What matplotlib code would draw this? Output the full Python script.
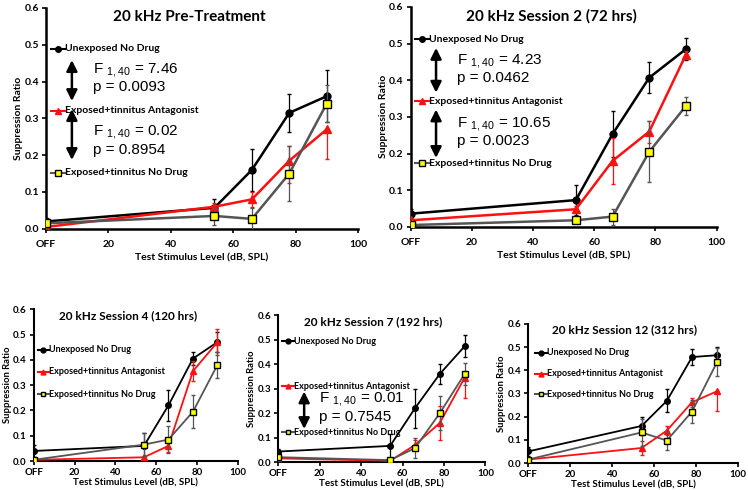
import numpy as np
import matplotlib
matplotlib.use("Agg")
import matplotlib.pyplot as plt

plt.rcParams['font.family'] = ['Lato', 'DejaVu Sans']
plt.rcParams['mathtext.fontset'] = 'custom'
plt.rcParams['mathtext.rm'] = 'Liberation Sans'

# x positions (dB SPL, OFF = 0)
levels = [0, 54, 66, 78, 90]
xticks = [0, 20, 40, 60, 80, 100]
xticklabels = ['OFF', '20', '40', '60', '80', '100']
yticks = [0.0, 0.1, 0.2, 0.3, 0.4, 0.5, 0.6]

titles = ['20 kHz Pre-Treatment', '20 kHz Session 2 (72 hrs)',
          '20 kHz Session 4 (120 hrs)', '20 kHz Session 7 (192 hrs)',
          '20 kHz Session 12 (312 hrs)']

# Unexposed No Drug
unexp = [[0.020, 0.057, 0.160, 0.315, 0.360],
         [0.036, 0.073, 0.253, 0.407, 0.485],
         [0.040, 0.060, 0.220, 0.405, 0.470],
         [0.043, 0.066, 0.220, 0.360, 0.473],
         [0.050, 0.160, 0.268, 0.457, 0.465]]
unexp_err = [[0.005, 0.025, 0.057, 0.052, 0.070],
             [0.012, 0.040, 0.063, 0.043, 0.030],
             [0.025, 0.050, 0.060, 0.025, 0.040],
             [0.010, 0.050, 0.080, 0.040, 0.045],
             [0.020, 0.040, 0.050, 0.035, 0.035]]

# Exposed+tinnitus Antagonist
antag = [[0.005, 0.060, 0.080, 0.185, 0.270],
         [0.018, 0.048, 0.180, 0.260, 0.470],
         [0.005, 0.015, 0.060, 0.355, 0.470],
         [0.015, 0.005, 0.070, 0.160, 0.345],
         [0.015, 0.065, 0.140, 0.262, 0.310]]
antag_lo = [[0.003, 0.010, 0.020, 0.060, 0.080],
            [0.005, 0.008, 0.063, 0.030, 0.010],
            [0.003, 0.005, 0.025, 0.040, 0.050],
            [0.005, 0.003, 0.020, 0.070, 0.085],
            [0.005, 0.030, 0.020, 0.020, 0.085]]
antag_hi = [[0.003, 0.010, 0.020, 0.040, 0.000],
            [0.005, 0.008, 0.063, 0.030, 0.010],
            [0.003, 0.005, 0.025, 0.040, 0.050],
            [0.005, 0.003, 0.020, 0.070, 0.000],
            [0.005, 0.030, 0.020, 0.020, 0.000]]

# Exposed+tinnitus No Drug
nodrug = [[0.015, 0.035, 0.027, 0.150, 0.340],
          [0.005, 0.018, 0.028, 0.205, 0.330],
          [0.005, 0.065, 0.085, 0.195, 0.380],
          [0.020, 0.008, 0.057, 0.200, 0.360],
          [0.015, 0.132, 0.097, 0.222, 0.437]]
nodrug_err = [[0.005, 0.025, 0.030, 0.075, 0.050],
              [0.003, 0.005, 0.022, 0.083, 0.025],
              [0.003, 0.045, 0.055, 0.065, 0.050],
              [0.005, 0.005, 0.040, 0.070, 0.045],
              [0.005, 0.060, 0.040, 0.050, 0.060]]

# label y positions per panel: unexposed, antagonist, no drug
label_y = [[0.489, 0.321, 0.152],
           [0.512, 0.343, 0.173],
           [0.440, 0.353, 0.265],
           [0.493, 0.310, 0.122],
           [0.476, 0.384, 0.296]]

# stats: (arrow top, arrow bottom, F text y, p text y, F, p)
stats = [[(0.458, 0.347, 0.428, 0.385, '7.46', '0.0093'),
          (0.325, 0.187, 0.260, 0.215, '0.02', '0.8954')],
         [(0.488, 0.366, 0.449, 0.405, '4.23', '0.0462'),
          (0.320, 0.188, 0.277, 0.234, '10.65', '0.0023')],
         [],
         [(0.288, 0.135, 0.253, 0.185, '0.01', '0.7545')],
         []]

positions = [[0.0615, 0.533, 0.417, 0.451],
             [0.549, 0.537, 0.409, 0.449],
             [0.045, 0.059, 0.273, 0.310],
             [0.372, 0.057, 0.277, 0.300],
             [0.706, 0.055, 0.281, 0.284]]

RED = '#ff1010'
GRAY = '#555555'

fig = plt.figure(figsize=(7.48, 4.90), dpi=100)

for i in range(5):
    ax = fig.add_axes(positions[i])
    big = i < 2
    ms = 1.0 if big else 0.8
    lw = 1.8 if big else 1.3
    fs_lab = 7.5 if big else 6.5

    ax.errorbar(levels, unexp[i], yerr=unexp_err[i], color='black', lw=lw,
                marker='o', ms=5 * ms, elinewidth=0.9, capsize=1.5, zorder=3)
    ax.errorbar(levels, antag[i], yerr=[antag_lo[i], antag_hi[i]], color=RED,
                lw=lw, marker='^', ms=6 * ms, elinewidth=0.9, capsize=1.5,
                zorder=4)
    ax.errorbar(levels, nodrug[i], yerr=nodrug_err[i], color=GRAY, lw=lw,
                marker='s', ms=5.3 * ms, mfc='#ffff00', mec='black', mew=1.0,
                elinewidth=0.9, capsize=1.5, ecolor=GRAY, zorder=5)

    ax.set_xlim(0, 100)
    ax.set_ylim(0, 0.6)
    ax.set_xticks(xticks)
    ax.set_xticklabels(xticklabels)
    ax.set_yticks(yticks)
    ax.set_yticklabels(['%.1f' % v for v in yticks])
    for s in ['top', 'right']:
        ax.spines[s].set_visible(False)
    for s in ['left', 'bottom']:
        ax.spines[s].set_linewidth(1.8 if big else 1.5)
    ax.tick_params(direction='out', length=3, width=1.2, pad=2,
                   labelsize=7.5 if big else 7)
    if big:
        ax.tick_params(axis='x', pad=5)
    for t in ax.get_xticklabels() + ax.get_yticklabels():
        t.set_fontweight('bold')
    ax.set_xlabel('Test Stimulus Level (dB, SPL)', fontsize=7.5 if big else 7,
                  fontweight='bold', labelpad=3 if big else 1)
    ax.set_ylabel('Suppression Ratio', fontsize=7.5 if big else 6.8,
                  fontweight='bold', labelpad=1)
    ax.text(46, 0.575, titles[i], ha='center', va='center',
            fontsize=11 if big else 8.5, fontweight='bold')

    # inline legend labels
    handles = [('black', 'o', 'black', 'Unexposed No Drug'),
               (RED, '^', RED, 'Exposed+tinnitus Antagonist'),
               (GRAY, 's', '#ffff00', 'Exposed+tinnitus No Drug')]
    x0, x1 = (1.5, 6.0) if big else (2.0, 7.5)
    if i == 4:
        x0, x1 = 3.5, 9.0
    for (col, mk, fc, lab), yy in zip(handles, label_y[i]):
        ax.plot([x0, x1], [yy, yy], color=col, lw=1.5, zorder=6, clip_on=False)
        ax.plot([(x0 + x1) / 2], [yy], marker=mk, color=col, mfc=fc,
                mec='black' if mk == 's' else col, ms=4 if big else 3.5,
                zorder=7, clip_on=False)
        ax.text(x1, yy, lab, ha='left', va='center', fontsize=fs_lab,
                fontweight='bold')

    # F / p annotations with double arrows
    xa = 8.3 if big else 12.5
    xt = 15.0 if big else 19.8
    for top, bot, fy, py, fval, pval in stats[i]:
        ax.annotate('', xy=(xa, top), xytext=(xa, bot),
                    arrowprops=dict(arrowstyle='<|-|>', color='black',
                                    lw=1.8, mutation_scale=16,
                                    shrinkA=0, shrinkB=0))
        ax.text(xt, fy, r'F $_{1,40}$ = ' + fval, ha='left', va='center',
                fontsize=11, family='Liberation Sans')
        ax.text(xt, py, 'p = ' + pval, ha='left', va='center',
                fontsize=11, family='Liberation Sans')

fig.savefig('out.png', dpi=100)
